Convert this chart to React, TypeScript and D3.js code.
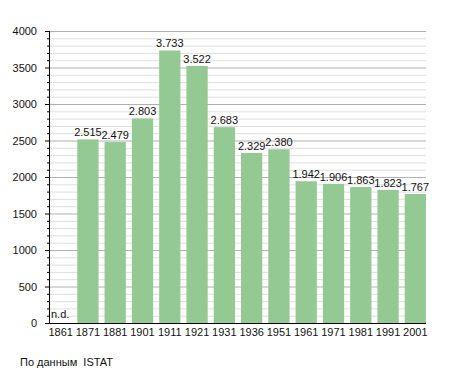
import React, { useEffect, useRef } from 'react'
import * as d3 from 'd3'

const years = ['1861', '1871', '1881', '1901', '1911', '1921', '1931', '1936', '1951', '1961', '1971', '1981', '1991', '2001']
const population: (number | null)[] = [null, 2515, 2479, 2803, 3733, 3522, 2683, 2329, 2380, 1942, 1906, 1863, 1823, 1767]
const yTicks = [0, 500, 1000, 1500, 2000, 2500, 3000, 3500, 4000]

export default function App() {
  const svgRef = useRef<SVGSVGElement>(null)

  useEffect(() => {
    if (!svgRef.current) return
    const svg = d3.select(svgRef.current)
    svg.selectAll('*').remove()

    const left = 49
    const right = 426
    const top = 31
    const bottom = 323
    const font = 'Liberation Sans, Arial, sans-serif'

    const x = d3.scaleBand<string>().domain(years).range([left + 1, right]).paddingInner(0.22).paddingOuter(0)
    const y = d3.scaleLinear().domain([0, 4000]).range([bottom, top])

    // Minor gridlines every 100
    const minor = d3.range(100, 4001, 100).filter(v => v % 500 !== 0)
    svg.append('g').selectAll('line').data(minor).join('line')
      .attr('x1', left).attr('x2', right)
      .attr('y1', d => y(d) + 0.5).attr('y2', d => y(d) + 0.5)
      .attr('stroke', '#dedede').attr('stroke-width', 1)

    // Major gridlines
    svg.append('g').selectAll('line').data(yTicks.filter(v => v > 0)).join('line')
      .attr('x1', left).attr('x2', right)
      .attr('y1', d => y(d) + 0.5).attr('y2', d => y(d) + 0.5)
      .attr('stroke', '#b0b0b0').attr('stroke-width', 1)

    // Bars
    const data = years.map((yr, i) => ({ yr, v: population[i] }))
    svg.append('g').selectAll('rect').data(data.filter(d => d.v !== null)).join('rect')
      .attr('x', d => x(d.yr)!)
      .attr('width', x.bandwidth())
      .attr('y', d => y(d.v as number))
      .attr('height', d => bottom - y(d.v as number))
      .attr('fill', '#95c993')

    // Value labels
    svg.append('g').selectAll('text').data(data).join('text')
      .attr('x', d => d.v === null ? x(d.yr)! + 1 : x(d.yr)! + x.bandwidth() / 2)
      .attr('y', d => d.v === null ? bottom - 5 : y(d.v) - 3)
      .attr('text-anchor', d => d.v === null ? 'start' : 'middle')
      .style('font-family', font)
      .style('font-size', '11px')
      .style('fill', '#111')
      .text(d => d.v === null ? 'n.d.' : d3.format(',')(d.v).replace(',', '.'))

    // Axis lines
    svg.append('line')
      .attr('x1', left + 0.5).attr('x2', left + 0.5)
      .attr('y1', top).attr('y2', bottom)
      .attr('stroke', '#000').attr('stroke-width', 1)
    svg.append('line')
      .attr('x1', left - 4).attr('x2', right)
      .attr('y1', bottom + 0.5).attr('y2', bottom + 0.5)
      .attr('stroke', '#000').attr('stroke-width', 1)

    svg.append('g').selectAll('line').data(d3.range(0, 4001, 100)).join('line')
      .attr('x1', d => d % 500 === 0 ? left - 4 : left - 2).attr('x2', left)
      .attr('y1', d => y(d) + 0.5).attr('y2', d => y(d) + 0.5)
      .attr('stroke', '#000').attr('stroke-width', 1)

    svg.append('g').selectAll('text').data(yTicks).join('text')
      .attr('x', 37)
      .attr('y', d => y(d) + 4)
      .attr('text-anchor', 'end')
      .style('font-family', font)
      .style('font-size', '11px')
      .style('fill', '#111')
      .text(d => d)

    // X labels
    svg.append('g').selectAll('text').data(years).join('text')
      .attr('x', d => x(d)! + x.bandwidth() / 2)
      .attr('y', bottom + 13)
      .attr('text-anchor', 'middle')
      .style('font-family', font)
      .style('font-size', '11px')
      .style('fill', '#111')
      .text(d => d)

    svg.append('text')
      .attr('x', 20)
      .attr('y', 366)
      .style('font-family', font)
      .style('font-size', '11px')
      .style('fill', '#111')
      .style('white-space', 'pre')
      .text('По данным  ISTAT')
  }, [])

  return (
    <div style={{ position: 'absolute', left: 0, top: 0 }}>
      <svg ref={svgRef} width={455} height={373} style={{ display: 'block', background: '#fff' }} />
    </div>
  )
}
